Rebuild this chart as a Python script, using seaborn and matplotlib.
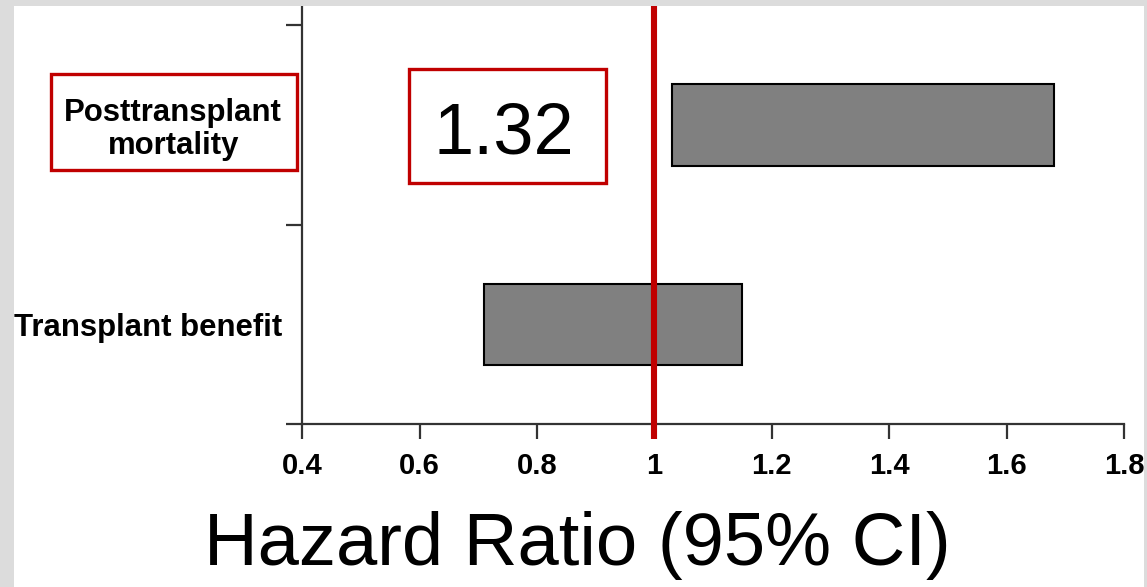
import matplotlib
matplotlib.use("Agg")
import matplotlib.pyplot as plt
from matplotlib.patches import Rectangle
import seaborn as sns
import pandas as pd

# Hazard ratio confidence intervals per outcome
outcomes = ["Posttransplant mortality", "Transplant benefit"]
outcome_labels = ["Posttransplant\nmortality", "Transplant benefit"]
ci_low = [1.03, 0.71]
ci_high = [1.68, 1.15]
hr_highlight = 1.32

x_ticks = [0.4, 0.6, 0.8, 1.0, 1.2, 1.4, 1.6, 1.8]
x_tick_labels = ["0.4", "0.6", "0.8", "1", "1.2", "1.4", "1.6", "1.8"]
reference_hr = 1.0

df = pd.DataFrame({"outcome": outcomes, "label": outcome_labels,
                   "low": ci_low, "high": ci_high})
df["pos"] = [1.5, 0.5]

sns.set_style("white")
plt.rcParams["font.family"] = ["Liberation Sans", "DejaVu Sans"]
plt.rcParams["text.color"] = "black"
plt.rcParams["xtick.labelcolor"] = "black"
plt.rcParams["ytick.labelcolor"] = "black"

W, H = 1147, 587
fig = plt.figure(figsize=(W / 100, H / 100), dpi=100)
fig.patch.set_facecolor("white")

def fx(px):
    return px / W

def fy(py):
    return (H - py) / H

ax = fig.add_axes([fx(302.3), fy(424.3), fx(1124) - fx(302.3), fy(6) - fy(424.3)])
ax.set_facecolor("none")

# CI boxes
ax.barh(df["pos"], df["high"] - df["low"], left=df["low"], height=0.41,
        color="#808080", edgecolor="black", linewidth=1.5, zorder=2)

# Reference line at HR = 1
ax.vlines(reference_hr, -0.074, 2.096, color="#c00000", linewidth=4.4,
          zorder=3, clip_on=False)

ax.set_xlim(0.4, 1.8)
ax.set_ylim(0, 2.096)
sns.despine(ax=ax, top=True, right=True)
for side in ("left", "bottom"):
    ax.spines[side].set_color("#333333")
    ax.spines[side].set_linewidth(1.6)

ax.set_xticks(x_ticks)
ax.set_xticklabels(x_tick_labels, fontsize=21, fontweight="bold")
ax.tick_params(axis="x", direction="out", length=11, width=1.6,
               color="#333333", pad=9, bottom=True)

ax.set_yticks([0, 1, 2])
ax.set_yticklabels(["", "", ""])
ax.tick_params(axis="y", which="major", direction="out", length=11.5,
               width=1.6, color="#333333", left=True)
ax.set_yticks(df["pos"], minor=True)
ax.set_yticklabels(df["label"], minor=True, fontsize=22.4, fontweight="bold",
                   multialignment="center", linespacing=1.1)
ax.tick_params(axis="y", which="minor", length=0, pad=14.5)

# Highlight boxes
red = "#c00000"
fig.add_artist(Rectangle((fx(50.5), fy(170.5)), fx(296.5) - fx(50.5),
                         fy(74) - fy(170.5), transform=fig.transFigure,
                         fill=False, edgecolor=red, linewidth=2.4, zorder=5))
fig.add_artist(Rectangle((fx(408.5), fy(183.3)), fx(605.8) - fx(408.5),
                         fy(69.3) - fy(183.3), transform=fig.transFigure,
                         fill=False, edgecolor=red, linewidth=2.4, zorder=5))
fig.text(fx(503.6), fy(153), f"{hr_highlight:.2f}", fontsize=52,
         ha="center", va="baseline", color="black")

fig.text(fx(577.5), fy(565), "Hazard Ratio (95% CI)", fontsize=53.5,
         ha="center", va="baseline", color="black")

# Grey frame
gray = "#dcdcdc"
for (x0, y0, x1, y1) in [(0, 0, 14, H), (0, 0, W, 6), (1144, 0, W, H)]:
    fig.add_artist(Rectangle((fx(x0), fy(y1)), fx(x1) - fx(x0), fy(y0) - fy(y1),
                             transform=fig.transFigure, facecolor=gray,
                             edgecolor="none", zorder=10))

fig.savefig("out.png", dpi=100)
